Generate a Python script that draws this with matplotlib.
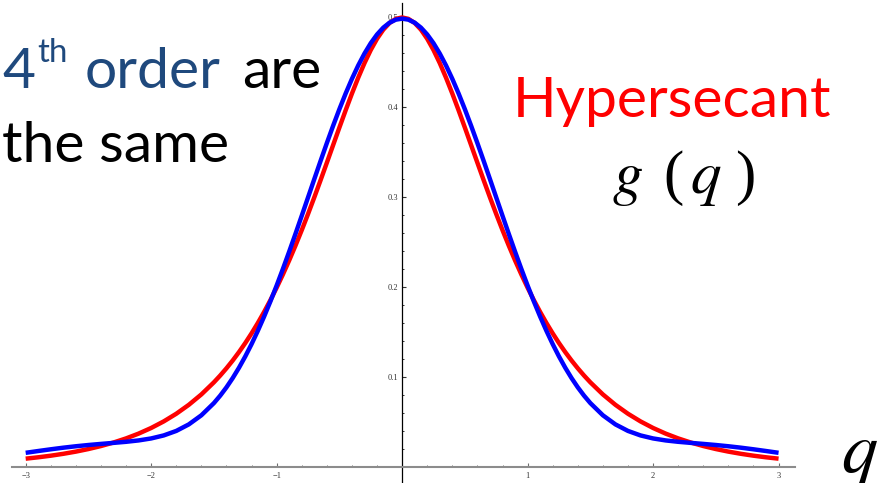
import matplotlib
matplotlib.use("Agg")
import matplotlib.pyplot as plt
from matplotlib.ticker import FixedLocator, MultipleLocator, FixedFormatter

# sample points along q (denser around the peak)
q = [-3.0, -2.9, -2.8, -2.7, -2.6, -2.5, -2.4, -2.3, -2.2, -2.1,
     -2.0, -1.9, -1.8, -1.7, -1.6, -1.5, -1.45, -1.4, -1.35, -1.3, -1.25,
     -1.2, -1.15, -1.1, -1.05, -1.0, -0.95, -0.9, -0.85, -0.8, -0.75,
     -0.7, -0.65, -0.6, -0.55, -0.5, -0.45, -0.4, -0.35, -0.3, -0.25,
     -0.2, -0.15, -0.1, -0.05,
     0.0,
     0.05, 0.1, 0.15, 0.2, 0.25, 0.3, 0.35, 0.4, 0.45, 0.5,
     0.55, 0.6, 0.65, 0.7, 0.75, 0.8, 0.85, 0.9, 0.95, 1.0,
     1.05, 1.1, 1.15, 1.2, 1.25, 1.3, 1.35, 1.4, 1.45, 1.5,
     1.6, 1.7, 1.8, 1.9, 2.0, 2.1, 2.2, 2.3, 2.4, 2.5, 2.6, 2.7, 2.8, 2.9, 3.0]

# hypersecant density g(q)
g_hypersecant = [
    0.00898, 0.01051, 0.01230, 0.01439, 0.01683, 0.01970, 0.02304, 0.02696, 0.03153, 0.03688,
    0.04313, 0.05044, 0.05896, 0.06890, 0.08047, 0.09394, 0.10146, 0.10955, 0.11826, 0.12761, 0.13765,
    0.14841, 0.15993, 0.17223, 0.18533, 0.19927, 0.21404, 0.22965, 0.24608, 0.26328, 0.28121,
    0.29977, 0.31885, 0.33830, 0.35791, 0.37747, 0.39670, 0.41529, 0.43291, 0.44920, 0.46378,
    0.47630, 0.48644, 0.49389, 0.49846,
    0.50000,
    0.49846, 0.49389, 0.48644, 0.47630, 0.46378, 0.44920, 0.43291, 0.41529, 0.39670, 0.37747,
    0.35791, 0.33830, 0.31885, 0.29977, 0.28121, 0.26328, 0.24608, 0.22965, 0.21404, 0.19927,
    0.18533, 0.17223, 0.15993, 0.14841, 0.13765, 0.12761, 0.11826, 0.10955, 0.10146, 0.09394,
    0.08047, 0.06890, 0.05896, 0.05044, 0.04313, 0.03688, 0.03153, 0.02696, 0.02304, 0.01970,
    0.01683, 0.01439, 0.01230, 0.01051, 0.00898]

# 4th-order expansion with the same moments
g_fourth_order = [
    0.01551, 0.01749, 0.01941, 0.02120, 0.02279, 0.02419, 0.02541, 0.02655, 0.02775, 0.02928,
    0.03149, 0.03484, 0.03985, 0.04712, 0.05725, 0.07083, 0.07908, 0.08836, 0.09872, 0.11019, 0.12278,
    0.13647, 0.15126, 0.16709, 0.18392, 0.20164, 0.22017, 0.23939, 0.25915, 0.27930, 0.29967,
    0.32006, 0.34029, 0.36015, 0.37942, 0.39791, 0.41539, 0.43166, 0.44654, 0.45983, 0.47138,
    0.48104, 0.48868, 0.49421, 0.49756,
    0.49868,
    0.49756, 0.49421, 0.48868, 0.48104, 0.47138, 0.45983, 0.44654, 0.43166, 0.41539, 0.39791,
    0.37942, 0.36015, 0.34029, 0.32006, 0.29967, 0.27930, 0.25915, 0.23939, 0.22017, 0.20164,
    0.18392, 0.16709, 0.15126, 0.13647, 0.12278, 0.11019, 0.09872, 0.08836, 0.07908, 0.07083,
    0.05725, 0.04712, 0.03985, 0.03484, 0.03149, 0.02928, 0.02775, 0.02655, 0.02541, 0.02419,
    0.02279, 0.02120, 0.01941, 0.01749, 0.01551]

x_ticks = [-3, -2, -1, 1, 2, 3]
x_tick_labels = ["\u22123", "\u22122", "\u22121", "1", "2", "3"]
y_ticks = [0.1, 0.2, 0.3, 0.4, 0.5]
y_tick_labels = ["0.1", "0.2", "0.3", "0.4", "0.5"]

W, H = 886, 483
fig = plt.figure(figsize=(W / 100, H / 100), dpi=100)
fig.patch.set_facecolor("white")

ax_left, ax_right = 12, 795
ax_top, ax_bottom = 3, 483
ax = fig.add_axes([ax_left / W, 1 - ax_bottom / H,
                   (ax_right - ax_left) / W, (ax_bottom - ax_top) / H])
ax.set_xlim(-3.109, 3.131)
ax.set_ylim(-0.0181, 0.5161)
ax.patch.set_alpha(0)

ax.plot(q, g_hypersecant, color="#ff0000", lw=3.2, zorder=3,
        solid_capstyle="butt", solid_joinstyle="round")
ax.plot(q, g_fourth_order, color="#0000ff", lw=3.2, zorder=4,
        solid_capstyle="butt", solid_joinstyle="round")

# axes crossing at the origin
for side in ("top", "right"):
    ax.spines[side].set_visible(False)
ax.spines["left"].set_position(("data", 0))
ax.spines["bottom"].set_position(("data", 0))
ax.spines["left"].set_color("black")
ax.spines["left"].set_linewidth(0.9)
ax.spines["bottom"].set_color("#8c8c8c")
ax.spines["bottom"].set_linewidth(1.5)

ax.xaxis.set_major_locator(FixedLocator(x_ticks))
ax.xaxis.set_major_formatter(FixedFormatter(x_tick_labels))
ax.xaxis.set_minor_locator(MultipleLocator(0.2))
ax.yaxis.set_major_locator(FixedLocator(y_ticks))
ax.yaxis.set_major_formatter(FixedFormatter(y_tick_labels))
ax.yaxis.set_minor_locator(MultipleLocator(0.02))

ax.tick_params(axis="x", which="both", direction="in", color="#6e6e6e",
               labelcolor="#333333", labelsize=6, pad=3.5)
ax.tick_params(axis="x", which="major", length=3.0, width=0.8)
ax.tick_params(axis="x", which="minor", length=1.8, width=0.7)
ax.tick_params(axis="y", which="both", direction="in", color="#333333",
               labelcolor="#333333", labelsize=6, pad=3.0)
ax.tick_params(axis="y", which="major", length=3.0, width=0.8)
ax.tick_params(axis="y", which="minor", length=1.6, width=0.7)
for lab in ax.get_xticklabels() + ax.get_yticklabels():
    lab.set_family("Liberation Serif")


def put(x, y, s, **kw):
    fig.text(x / W, 1 - y / H, s, va="baseline", ha="left", **kw)


sans = "Lato"
blue_txt = "#1f497d"
big = 41
put(2, 88, "4", family=sans, size=big, color=blue_txt)
put(37, 62, "th", family=sans, size=big * 0.58, color=blue_txt)
put(85, 88, "order", family=sans, size=big, color=blue_txt)
put(242, 88, "are", family=sans, size=big, color="black")
put(2, 162, "the same", family=sans, size=big, color="black")

put(513, 117, "Hypersecant", family=sans, size=big, color="#ff0000")

# g(q) in a Times-like math italic
put(612, 193, r"$g$", math_fontfamily="stix", size=44, color="black")
put(663, 193, "(", family="Liberation Serif", size=44, color="black")
put(690, 193, r"$q$", math_fontfamily="stix", size=44, color="black")
put(735, 193, ")", family="Liberation Serif", size=44, color="black")

put(841, 472, r"$q$", math_fontfamily="stix", size=52, color="black")

fig.savefig("out.png", dpi=100, facecolor="white")
